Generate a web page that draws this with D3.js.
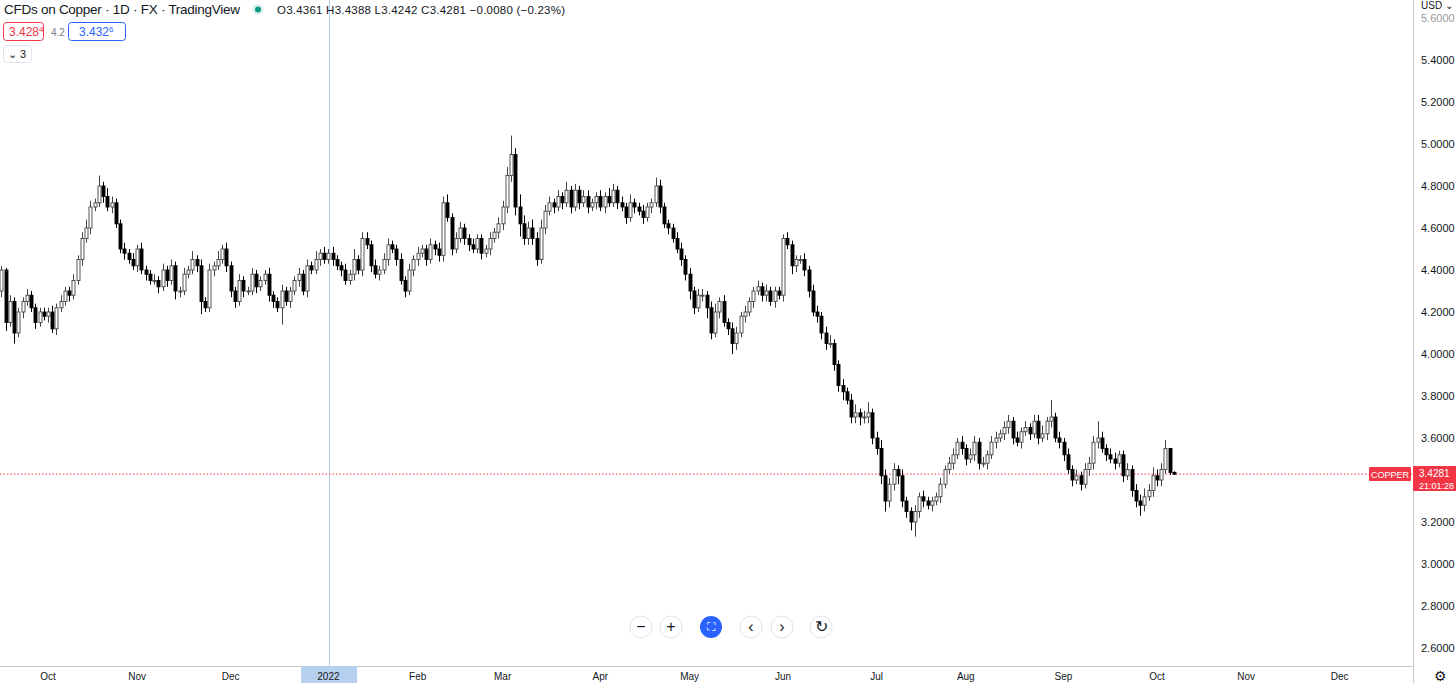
<!DOCTYPE html>
<html><head><meta charset="utf-8">
<script src="https://cdn.jsdelivr.net/npm/d3@7"></script>
<style>body{margin:0;background:#fff;font-family:-apple-system,"Liberation Sans",Arial,sans-serif}</style>
</head><body><svg id="c" width="1456" height="683"></svg>
<script>
// closes per month (Sep 16 2021 .. Oct 7 2022)
const closes = [
 4.40,4.15,4.25,4.10,4.20,4.25,4.28,4.22,4.15,4.20,4.18,
 4.20,4.12,4.22,4.25,4.30,4.28,4.35,4.45,4.55,4.60,4.70,4.72,4.80,4.75,4.70,4.72,4.62,4.50,4.48,4.45,4.42,
 4.50,4.40,4.38,4.35,4.35,4.32,4.40,4.35,4.42,4.30,4.30,4.38,4.40,4.45,4.42,4.25,4.22,4.40,4.42,4.45,4.50,4.42,
 4.30,4.25,4.35,4.30,4.30,4.38,4.32,4.35,4.38,4.28,4.25,4.22,4.30,4.25,4.30,4.35,4.38,4.30,4.42,4.40,4.45,4.48,4.45,
 4.48,4.45,4.42,4.40,4.35,4.38,4.45,4.40,4.55,4.52,4.42,4.38,4.40,4.45,4.52,4.50,4.45,4.35,4.30,4.40,4.45,
 4.48,4.50,4.45,4.52,4.50,4.47,4.72,4.65,4.50,4.55,4.60,4.55,4.52,4.50,4.55,4.48,4.50,4.55,4.58,4.62,
 4.70,4.85,4.95,4.70,4.62,4.55,4.60,4.55,4.45,4.60,4.68,4.72,4.70,4.75,4.72,4.78,4.70,4.78,4.72,4.75,4.70,4.72,4.75,
 4.70,4.75,4.72,4.78,4.72,4.70,4.65,4.72,4.70,4.68,4.65,4.70,4.72,4.80,4.70,4.62,4.60,4.55,4.50,4.45,4.38,
 4.30,4.22,4.28,4.28,4.22,4.10,4.20,4.25,4.15,4.12,4.05,4.10,4.18,4.20,4.25,4.30,4.32,4.28,4.30,4.25,4.30,4.28,
 4.55,4.52,4.42,4.45,4.45,4.40,4.30,4.20,4.18,4.10,4.05,4.05,3.95,3.85,3.82,3.78,3.70,3.72,3.70,3.70,3.72,3.60,
 3.55,3.42,3.30,3.38,3.45,3.42,3.30,3.25,3.20,3.25,3.32,3.30,3.28,3.30,3.32,3.38,3.45,3.48,3.52,3.58,3.55,
 3.50,3.52,3.58,3.48,3.48,3.52,3.58,3.60,3.62,3.65,3.68,3.60,3.58,3.63,3.65,3.62,3.68,3.60,3.62,3.68,3.70,3.60,3.58,
 3.52,3.45,3.40,3.42,3.38,3.45,3.48,3.58,3.60,3.55,3.52,3.50,3.48,3.52,3.42,3.45,3.35,3.30,3.28,3.32,3.35,3.42,
 3.40,3.45,3.55,3.4361,3.4281];
// wick extensions in cents above max(o,c) / below min(o,c)
const upWick = [
 2,1,3,2,2,2,3,2,2,2,2,
 2,3,2,3,2,2,3,2,3,4,3,2,5,2,4,3,2,2,3,2,3,
 2,3,2,2,3,2,3,2,3,2,2,3,2,4,2,3,2,3,2,4,2,3,
 2,2,3,2,2,3,2,2,2,3,2,2,3,2,2,2,3,2,3,2,4,2,3,
 2,3,2,2,3,2,5,2,3,3,2,3,2,3,3,2,2,3,2,3,2,
 3,2,2,3,2,3,3,4,2,3,3,2,2,3,2,2,2,3,2,3,
 3,4,9,3,6,4,3,4,3,4,3,3,2,3,2,4,2,3,2,3,3,2,2,
 3,2,4,3,2,3,2,4,2,2,3,2,2,4,3,2,2,2,3,3,2,
 3,2,3,3,2,3,4,2,3,2,3,3,2,3,2,2,3,2,3,2,2,2,
 2,3,2,2,2,3,2,3,3,2,3,4,2,2,3,2,3,4,2,3,5,2,
 3,4,3,3,3,2,3,2,2,3,2,3,2,2,2,3,2,3,3,2,3,
 2,3,3,2,3,2,3,3,2,3,3,2,3,2,3,2,3,3,4,2,8,2,3,
 2,3,2,3,2,3,3,3,8,3,2,3,3,2,2,3,2,3,3,4,3,4,
 3,3,4,0.3,0.5];
const dnWick = [
 3,4,2,5,2,3,2,2,3,2,2,
 3,2,3,2,2,3,2,2,3,2,3,2,2,3,2,3,2,2,3,2,2,
 3,2,3,2,2,3,2,3,2,4,3,2,2,2,3,6,2,2,3,2,2,3,
 3,3,2,3,2,2,3,2,2,3,3,2,8,2,3,2,3,2,3,2,2,3,2,
 2,3,2,3,2,2,3,2,3,2,3,2,3,2,3,2,3,2,3,2,3,
 3,2,3,2,3,3,3,2,3,2,2,3,3,2,2,3,2,3,2,3,
 3,3,3,4,6,3,3,3,3,2,3,2,3,2,3,2,3,2,3,2,3,2,3,
 2,3,2,2,3,2,3,2,3,2,3,2,3,2,3,2,3,2,2,3,3,
 4,3,2,3,5,3,2,3,2,3,5,3,2,3,2,3,2,3,3,2,3,2,
 3,2,4,3,2,3,3,2,3,3,3,2,3,3,4,2,3,3,4,3,3,3,
 3,4,5,3,3,4,3,3,4,7,3,3,2,3,2,3,2,2,3,2,3,
 3,2,3,3,2,3,2,3,2,3,3,3,2,3,2,3,2,3,2,3,3,2,3,
 3,2,3,2,3,2,3,3,3,2,3,2,3,2,3,2,3,3,5,3,2,3,
 3,3,2,1.2,0.4];
const yTicks = [2.6,2.8,3.0,3.2,3.4,3.6,3.8,4.0,4.2,4.4,4.6,4.8,5.0,5.2,5.4,5.6];
const monthLabels = ["Oct","Nov","Dec","2022","Feb","Mar","Apr","May","Jun","Jul","Aug","Sep","Oct","Nov","Dec"];
const lastPrice = 3.4281;

const svg = d3.select("#c");
const days = d3.timeDays(new Date(2021,8,16), new Date(2023,0,1)).filter(d=>d.getDay()%6!==0);
const firstOfMonth = [];
days.forEach((d,i)=>{ if(i>0 && d.getMonth()!==days[i-1].getMonth()) firstOfMonth.push(i); });
const iOct = firstOfMonth[0], iOct22 = firstOfMonth[12];
const x = d3.scaleLinear().domain([iOct, iOct22]).range([48, 1157]);
const y = d3.scaleLinear().domain([3.0, 5.0]).range([564, 144]);

const data = closes.map((c,i)=>({i, o: i===0 ? 4.30 : closes[i-1], c}));
data[data.length-1].o = 3.4361;
data.forEach(d=>{ d.hi = Math.max(d.o,d.c)+upWick[d.i]/100; d.lo = Math.min(d.o,d.c)-dnWick[d.i]/100; });

svg.append("line").attr("x1",329.5).attr("x2",329.5).attr("y1",0).attr("y2",666).attr("stroke","#b7d2ea").attr("stroke-width",1);
svg.append("line").attr("x1",0).attr("x2",1413).attr("y1",y(lastPrice)).attr("y2",y(lastPrice))
  .attr("stroke","#f23645").attr("stroke-dasharray","1.5,2").attr("stroke-width",1);

const bars = svg.append("g").selectAll("g").data(data).join("g");
bars.append("line").attr("x1",d=>Math.round(x(d.i))+0.5).attr("x2",d=>Math.round(x(d.i))+0.5)
  .attr("y1",d=>y(d.hi)).attr("y2",d=>y(d.lo)).attr("stroke",d=>d.c>=d.o?"#444":"#000");
bars.append("rect").attr("x",d=>Math.round(x(d.i))-1).attr("width",3)
  .attr("y",d=>y(Math.max(d.o,d.c))).attr("height",d=>Math.max(1,Math.abs(y(d.o)-y(d.c))))
  .attr("fill",d=>d.c>=d.o?"#fff":"#000").attr("stroke",d=>d.c>=d.o?"#444":"#000").attr("stroke-width",0.9);

svg.append("line").attr("x1",1413.5).attr("x2",1413.5).attr("y1",0).attr("y2",683).attr("stroke","#c8c8c8");
svg.append("line").attr("x1",0).attr("x2",1413).attr("y1",666.5).attr("y2",666.5).attr("stroke","#c8c8c8");
svg.selectAll(".yt").data(yTicks.filter(t=>Math.abs(y(t)-y(lastPrice))>16)).join("text").attr("x",1421).attr("y",d=>y(d)+4)
  .attr("font-size",11).attr("fill",(d)=>d===5.6?"#999":"#131722").text(d=>d.toFixed(4));
svg.append("rect").attr("x",1414).attr("y",0).attr("width",42).attr("height",12).attr("fill","#fff");
svg.append("text").attr("x",1421).attr("y",9).attr("font-size",10).attr("fill","#131722").text("USD ⌄");

svg.append("rect").attr("x",301).attr("y",666).attr("width",56).attr("height",17).attr("fill","#b8d0f0");
svg.selectAll(".xt").data(monthLabels).join("text")
  .attr("x",(d,k)=>x(firstOfMonth[k])).attr("y",680).attr("text-anchor","middle")
  .attr("font-size",10).attr("fill","#131722").text(d=>d);

svg.append("rect").attr("x",1369).attr("y",467).attr("width",42).attr("height",14).attr("fill","#f23645").attr("rx",1);
svg.append("text").attr("x",1390).attr("y",478).attr("text-anchor","middle").attr("font-size",9).attr("fill","#fff").text("COPPER");
svg.append("rect").attr("x",1413).attr("y",466).attr("width",43).attr("height",25).attr("fill","#f23645");
svg.append("text").attr("x",1419).attr("y",477).attr("font-size",10).attr("fill","#fff").text("3.4281");
svg.append("text").attr("x",1419).attr("y",489).attr("font-size",9).attr("fill","#fff").text("21:01:28");

svg.append("text").attr("x",4).attr("y",14).attr("font-size",13.5).attr("fill","#131722")
  .attr("textLength",236).text("CFDs on Copper · 1D · FX · TradingView");
svg.append("circle").attr("cx",258).attr("cy",9.5).attr("r",5.5).attr("fill","#e0f2ef");
svg.append("circle").attr("cx",258).attr("cy",9.5).attr("r",3).attr("fill","#089981");
svg.append("text").attr("x",277).attr("y",14).attr("font-size",11.5).attr("fill","#131722")
  .attr("textLength",288).text("O3.4361 H3.4388 L3.4242 C3.4281 −0.0080 (−0.23%)");
svg.append("rect").attr("x",3.5).attr("y",22.5).attr("width",40).attr("height",18).attr("rx",3).attr("fill","none").attr("stroke","#f23645");
svg.append("text").attr("x",9).attr("y",36).attr("font-size",12).attr("fill","#f23645").text("3.428").append("tspan").attr("font-size",8).attr("dy",-4).text("4");
svg.append("text").attr("x",51).attr("y",36).attr("font-size",10).attr("fill","#787b86").text("4.2");
svg.append("rect").attr("x",68.5).attr("y",22.5).attr("width",57).attr("height",18).attr("rx",3).attr("fill","none").attr("stroke","#2962ff");
svg.append("text").attr("x",79).attr("y",36).attr("font-size",12).attr("fill","#2962ff").text("3.432").append("tspan").attr("font-size",8).attr("dy",-4).text("6");
svg.append("rect").attr("x",3.5).attr("y",45.5).attr("width",28).attr("height",17).attr("rx",3).attr("fill","none").attr("stroke","#e0e3eb");
svg.append("text").attr("x",8).attr("y",58).attr("font-size",11).attr("fill","#131722").text("⌄ 3");

const btns=[[641,"−"],[671,"+"],[711,""],[751,"‹"],[782,"›"],[821,"↻"]];
btns.forEach(b=>{
  svg.append("circle").attr("cx",b[0]).attr("cy",627).attr("r",11).attr("fill",b[1]===""?"#2962ff":"#fff")
    .attr("stroke",b[1]===""?"none":"#e0e3eb");
  if(b[1]) svg.append("text").attr("x",b[0]).attr("y",632).attr("text-anchor","middle").attr("font-size",16).attr("fill","#131722").text(b[1]);
});
svg.append("text").attr("x",711).attr("y",631).attr("text-anchor","middle").attr("font-size",12).attr("fill","#fff").text("⛶");
svg.append("text").attr("x",1440).attr("y",681).attr("text-anchor","middle").attr("font-size",14).attr("fill","#131722").text("⚙");
</script></body></html>
